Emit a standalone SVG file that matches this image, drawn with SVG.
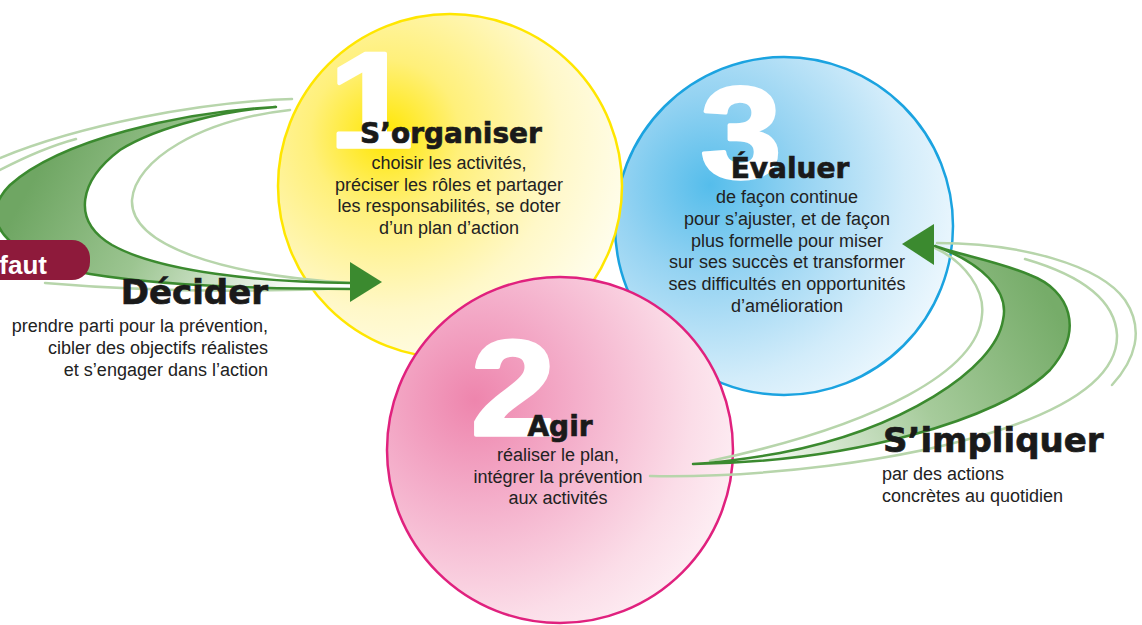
<svg xmlns="http://www.w3.org/2000/svg" width="1142" height="625" viewBox="0 0 1142 625">
<defs>
<radialGradient id="gY" gradientUnits="userSpaceOnUse" cx="385" cy="135" r="250">
<stop offset="0" stop-color="#FFE600"/><stop offset="0.3" stop-color="#FFF07A"/><stop offset="0.7" stop-color="#FFF8C8"/><stop offset="1" stop-color="#FFFDEB"/>
</radialGradient>
<radialGradient id="gB" gradientUnits="userSpaceOnUse" cx="710" cy="185" r="260">
<stop offset="0" stop-color="#55BDEB"/><stop offset="0.35" stop-color="#95D3F2"/><stop offset="0.75" stop-color="#D2ECFA"/><stop offset="1" stop-color="#EEF8FE"/>
</radialGradient>
<radialGradient id="gP" gradientUnits="userSpaceOnUse" cx="475" cy="400" r="290">
<stop offset="0" stop-color="#EE85AD"/><stop offset="0.35" stop-color="#F4AECA"/><stop offset="0.75" stop-color="#FBDDE8"/><stop offset="1" stop-color="#FEF3F7"/>
</radialGradient>
<linearGradient id="gL" gradientUnits="userSpaceOnUse" x1="50" y1="150" x2="300" y2="290">
<stop offset="0" stop-color="#6FA663"/><stop offset="0.45" stop-color="#9CC591"/><stop offset="1" stop-color="#FFFFFF"/>
</linearGradient>
<linearGradient id="gR" gradientUnits="userSpaceOnUse" x1="1050" y1="300" x2="740" y2="475">
<stop offset="0" stop-color="#76AC69"/><stop offset="0.45" stop-color="#A6CB9B"/><stop offset="1" stop-color="#FFFFFF"/>
</linearGradient>
<style>
.num{font-family:"Liberation Sans",Arial,sans-serif;font-weight:bold;fill:#fff;stroke:#fff;stroke-width:3.5;stroke-linejoin:round;text-anchor:middle}
.title{font-family:"DejaVu Sans","Liberation Sans",sans-serif;font-weight:bold;fill:#1a1a1a;stroke:#1a1a1a;stroke-width:0.7}
.body{font-family:"Liberation Sans",Arial,sans-serif;font-size:18px;fill:#222}
.mid{text-anchor:middle}
.end{text-anchor:end}
.crescent{stroke:#3B8A2F;stroke-width:2.5;stroke-linejoin:round}
.light{fill:none;stroke:#B7D5AB;stroke-width:2.5;stroke-linecap:round}
.arrow{fill:#3B8A2F}
</style>
</defs>
<rect width="1142" height="625" fill="#fff"/>

<g id="node-evaluer">
<circle cx="784" cy="226" r="169" fill="url(#gB)" stroke="#1BA3E0" stroke-width="2.5"/>
<text class="num" font-size="130" transform="translate(741,178) scale(1.12,1)">3</text>
<text class="title mid" font-size="28" x="790" y="178">Évaluer</text>
<text class="body mid"><tspan x="787" y="203">de façon continue</tspan><tspan x="787" y="225">pour s’ajuster, et de façon</tspan><tspan x="787" y="247">plus formelle pour miser</tspan><tspan x="787" y="268">sur ses succès et transformer</tspan><tspan x="787" y="290">ses difficultés en opportunités</tspan><tspan x="787" y="312">d’amélioration</tspan></text>
</g>

<g id="node-organiser">
<circle cx="450" cy="186" r="172" fill="url(#gY)" stroke="#FFE600" stroke-width="2.5"/>
<text class="num" font-size="135" transform="translate(371,147) scale(1.12,1)">1</text>
<text class="title mid" font-size="28" x="451" y="143">S’organiser</text>
<text class="body mid"><tspan x="449" y="169">choisir les activités,</tspan><tspan x="449" y="190.7">préciser les rôles et partager</tspan><tspan x="449" y="212.3">les responsabilités, se doter</tspan><tspan x="449" y="234">d’un plan d’action</tspan></text>
</g>

<g id="node-agir">
<circle cx="560" cy="450" r="173" fill="url(#gP)" stroke="#E0217E" stroke-width="2.5"/>
<text class="num" font-size="136" transform="translate(513,435) scale(1.12,1)">2</text>
<text class="title mid" font-size="28" x="560" y="436">Agir</text>
<text class="body mid"><tspan x="558" y="461">réaliser le plan,</tspan><tspan x="558" y="482.5">intégrer la prévention</tspan><tspan x="558" y="504">aux activités</tspan></text>
</g>

<g id="connectors">
<g id="swoosh-left">
<path class="light" d="M292,99 C200,102 80,125 0,158"/>
<path class="light" d="M76,139 C50,146 25,157 0,170"/>
<path class="light" d="M290,110 C200,120 135,160 132,200 C130,245 220,275 350,283"/>
<path class="light" d="M45,283 C150,292 260,292 352,288"/>
<path class="crescent" fill="url(#gL)" d="M276,107 C180,112 60,140 10,185 C-30,225 20,262 90,274 C170,287 280,289 352,289 L352,283 C260,282 160,272 112,245 C70,220 80,180 120,150 C160,125 230,110 276,107 Z"/>
<polygon class="arrow" points="350,262 382,282 350,302"/>
</g>
<g id="swoosh-right">
<path class="light" d="M937,243 C1020,243 1100,265 1125,300 C1145,330 1135,360 1112,385"/>
<path class="light" d="M1025,259 C1080,275 1115,300 1117,335 C1118,380 1060,410 1000,430 C900,462 760,478 650,476"/>
<path class="light" d="M935,248 C965,262 985,290 982,315 C978,370 880,425 710,461"/>
<path class="crescent" fill="url(#gR)" d="M693,464 C850,462 1000,420 1050,370 C1085,330 1070,290 1030,275 C1000,262 960,255 935,246 C980,262 1010,290 1003,320 C995,370 900,430 780,453 C740,460 710,463 693,464 Z"/>
<polygon class="arrow" points="902,244 934,224 934,265"/>
</g>
</g>

<g id="label-faut">
<rect x="-30" y="240" width="120" height="40" rx="18" fill="#8E1A3B"/>
<text x="47" y="274" text-anchor="end" font-family="Liberation Sans, Arial, sans-serif" font-weight="bold" font-size="26" fill="#fff">faut</text>
</g>

<g id="node-decider">
<text class="title end" font-size="34" x="268" y="304">Décider</text>
<text class="body end"><tspan x="268" y="332">prendre parti pour la prévention,</tspan><tspan x="268" y="354">cibler des objectifs réalistes</tspan><tspan x="268" y="376">et s’engager dans l’action</tspan></text>
</g>

<g id="node-impliquer">
<text class="title" font-size="34" x="883" y="452">S’impliquer</text>
<text class="body"><tspan x="882" y="480">par des actions</tspan><tspan x="882" y="502">concrètes au quotidien</tspan></text>
</g>
</svg>
